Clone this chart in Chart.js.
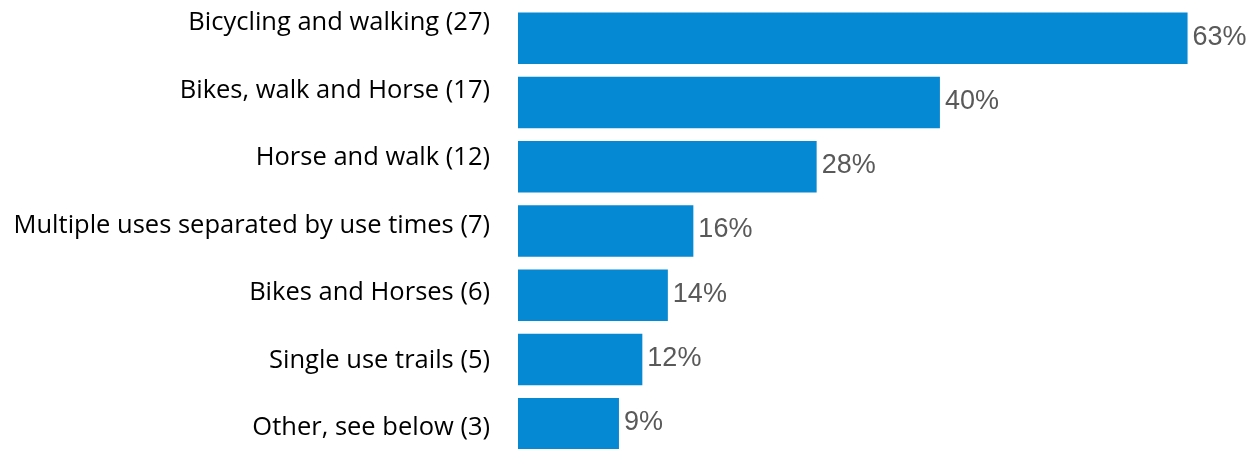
<!DOCTYPE html>
<html lang="en">
<head>
  <meta charset="UTF-8" />
  <title>Trail uses</title>
  <script src="https://cdn.jsdelivr.net/npm/chart.js"></script>
  <style>
    html, body {
      margin: 0;
      padding: 0;
      background: #fff;
      overflow: hidden;
    }
    .wrap {
      position: relative;
      width: 1256px;
      height: 449px;
      overflow: hidden;
    }
    #labelChart {
      position: absolute;
      left: 0;
      top: -36px;
    }
    #barChart {
      position: absolute;
      left: 518px;
      top: 0;
    }
  </style>
</head>
<body>
  <div class="wrap">
    <canvas id="barChart" width="738" height="460"></canvas>
    <canvas id="labelChart" width="518" height="523"></canvas>
  </div>

  <script>
    // categories (counts in brackets)
    const categories = [
      "Bicycling and walking (27)",
      "Bikes, walk and Horse (17)",
      "Horse and walk (12)",
      "Multiple uses separated by use times (7)",
      "Bikes and Horses (6)",
      "Single use trails (5)",
      "Other, see below (3)"
    ];
    // bar lengths (%)
    const shares = [63, 39.7, 28.1, 16.5, 14.1, 11.7, 9.5];
    // printed labels
    const shareLabels = ["63%", "40%", "28%", "16%", "14%", "12%", "9%"];

    // value labels at bar ends
    const valueLabels = {
      id: "valueLabels",
      afterDatasetsDraw(chart) {
        const ctx = chart.ctx;
        const meta = chart.getDatasetMeta(0);
        ctx.save();
        ctx.font = "27px 'Liberation Sans', Arial, sans-serif";
        ctx.fillStyle = "#595959";
        ctx.textAlign = "left";
        ctx.textBaseline = "middle";
        meta.data.forEach((bar, i) => {
          ctx.fillText(shareLabels[i], bar.x + 5, bar.y - 1);
        });
        ctx.restore();
      }
    };

    // bars
    new Chart(document.getElementById("barChart"), {
      type: "bar",
      data: {
        labels: categories,
        datasets: [{
          data: shares,
          backgroundColor: "#0689d3",
          barPercentage: 0.9,
          categoryPercentage: 0.89
        }]
      },
      options: {
        indexAxis: "y",
        responsive: false,
        animation: false,
        layout: { padding: { top: 6, bottom: 4, left: 0, right: 0 } },
        plugins: { legend: { display: false }, tooltip: { enabled: false } },
        scales: {
          x: { display: false, min: 0, max: 69.44 },
          y: { display: false }
        }
      },
      plugins: [valueLabels]
    });

    // category labels on the left
    new Chart(document.getElementById("labelChart"), {
      type: "bar",
      data: {
        labels: categories,
        datasets: [{ data: [] }]
      },
      options: {
        indexAxis: "y",
        responsive: false,
        animation: false,
        layout: { padding: 0 },
        plugins: { legend: { display: false }, tooltip: { enabled: false } },
        scales: {
          x: { display: false },
          y: {
            grid: { display: false, drawTicks: false },
            border: { display: false },
            ticks: {
              color: "#000",
              padding: 10,
              font: { family: "'Open Sans'", size: 25.5 }
            },
            afterFit(scale) { scale.width = 500; }
          }
        }
      }
    });
  </script>
</body>
</html>
